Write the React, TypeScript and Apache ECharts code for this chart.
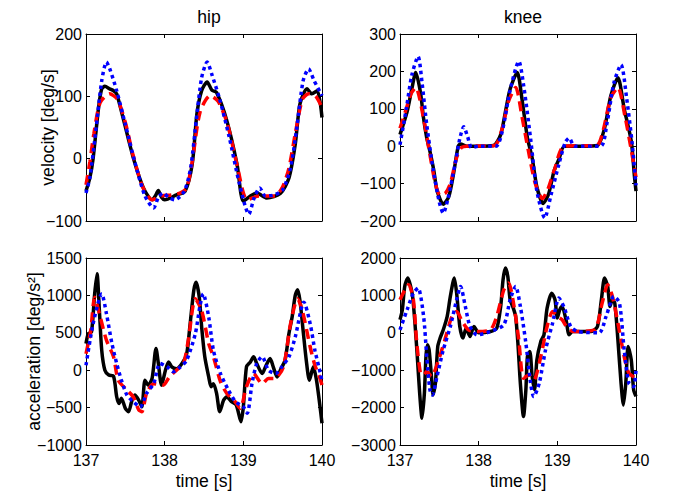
import React, { useEffect, useRef } from "react";
import * as echarts from "echarts";

type P = [number, number][];

const titles = ["hip", "knee"];
const yNames = ["velocity [deg/s]", "acceleration [deg/s²]"];
const xName = "time [s]";
const xTicks = [137, 138, 139, 140];
// [min, max, interval] for TL, TR, BL, BR
const yRanges = [
  [-100, 200, 100],
  [-200, 300, 100],
  [-1000, 1500, 500],
  [-3000, 2000, 1000],
];

const hipVelBlack: P = [[137.00,-52],[137.05,-30],[137.09,0],[137.16,82],[137.20,112],[137.24,116],[137.30,112],[137.35,109],[137.39,104],[137.48,61],[137.60,2],[137.73,-47],[137.84,-66],[137.88,-60],[137.92,-51],[137.96,-62],[138.00,-66],[138.15,-58],[138.26,-52],[138.35,-9],[138.41,72],[138.47,109],[138.54,123],[138.60,110],[138.66,106],[138.79,61],[138.92,-9],[139.00,-68],[139.09,-60],[139.17,-55],[139.30,-63],[139.47,-56],[139.58,-31],[139.66,23],[139.72,88],[139.81,112],[139.87,104],[139.94,109],[140.00,66]];
const hipVelRed: P = [[137.00,-42],[137.05,-5],[137.10,40],[137.18,90],[137.30,104],[137.40,95],[137.50,58],[137.60,5],[137.72,-45],[137.84,-66],[137.95,-60],[138.10,-58],[138.20,-55],[138.28,-47],[138.35,-5],[138.45,75],[138.58,101],[138.68,92],[138.80,55],[138.92,-10],[139.05,-66],[139.20,-60],[139.40,-60],[139.50,-45],[139.58,-15],[139.66,40],[139.75,95],[139.83,104],[139.92,100],[140.00,82]];
const hipVelBlue: P = [[137.00,-55],[137.05,-30],[137.12,40],[137.20,125],[137.26,155],[137.30,145],[137.39,109],[137.50,55],[137.62,-5],[137.75,-60],[137.86,-79],[137.92,-62],[137.98,-55],[138.05,-62],[138.13,-66],[138.25,-52],[138.33,-15],[138.40,60],[138.47,130],[138.54,155],[138.60,135],[138.70,95],[138.82,35],[138.95,-40],[139.07,-89],[139.14,-62],[139.21,-47],[139.28,-60],[139.40,-58],[139.50,-50],[139.60,-15],[139.68,50],[139.76,125],[139.83,144],[139.90,125],[140.00,101]];

const kneeVelBlack: P = [[137.00,31],[137.09,92],[137.15,153],[137.20,197],[137.26,144],[137.30,74],[137.34,22],[137.38,-13],[137.43,-65],[137.47,-118],[137.55,-155],[137.62,-135],[137.68,-74],[137.74,0],[137.77,6],[137.85,0],[138.00,0],[138.19,2],[138.28,31],[138.34,92],[138.40,153],[138.49,197],[138.55,127],[138.62,22],[138.68,-31],[138.74,-109],[138.82,-153],[138.89,-127],[138.96,-65],[139.02,-35],[139.09,0],[139.30,0],[139.51,2],[139.60,48],[139.68,135],[139.77,183],[139.85,100],[139.94,13],[139.98,-80],[140.00,-120]];
const kneeVelRed: P = [[137.00,48],[137.08,100],[137.14,140],[137.20,157],[137.30,74],[137.38,-22],[137.45,-100],[137.51,-131],[137.58,-125],[137.64,-100],[137.72,-30],[137.78,-4],[137.85,0],[138.20,2],[138.30,48],[138.38,120],[138.47,157],[138.55,80],[138.63,-10],[138.72,-100],[138.81,-140],[138.88,-115],[138.96,-65],[139.09,0],[139.50,2],[139.58,40],[139.68,130],[139.77,157],[139.86,80],[139.94,-10],[140.00,-83]];
const kneeVelBlue: P = [[137.00,4],[137.08,100],[137.15,190],[137.23,240],[137.28,170],[137.34,57],[137.42,-60],[137.50,-150],[137.55,-179],[137.61,-140],[137.70,-48],[137.76,20],[137.81,52],[137.86,25],[137.91,-4],[138.00,0],[138.22,0],[138.30,40],[138.40,150],[138.51,227],[138.58,150],[138.66,20],[138.74,-120],[138.84,-192],[138.92,-130],[139.02,-48],[139.10,10],[139.15,22],[139.22,0],[139.55,0],[139.63,60],[139.72,170],[139.81,218],[139.88,130],[139.95,10],[140.00,-105]];

const hipAccBlack: P = [[137.00,355],[137.03,490],[137.07,510],[137.11,1020],[137.14,1290],[137.17,800],[137.20,265],[137.24,0],[137.29,-65],[137.35,-80],[137.39,-355],[137.42,-445],[137.45,-375],[137.50,-510],[137.54,-555],[137.58,-420],[137.62,-333],[137.67,-400],[137.71,-490],[137.75,-133],[137.79,-200],[137.84,-110],[137.89,290],[137.92,90],[137.96,-200],[138.01,0],[138.05,110],[138.09,45],[138.15,20],[138.22,90],[138.28,220],[138.32,580],[138.37,1065],[138.40,1175],[138.44,975],[138.47,580],[138.51,180],[138.56,-90],[138.59,-220],[138.62,-180],[138.66,-310],[138.70,-555],[138.75,-400],[138.79,-355],[138.85,-420],[138.91,-465],[138.97,-690],[139.00,-490],[139.04,45],[139.09,110],[139.13,180],[139.17,90],[139.24,-45],[139.29,65],[139.34,155],[139.38,45],[139.43,-90],[139.47,0],[139.53,133],[139.58,490],[139.62,710],[139.66,1000],[139.69,1075],[139.72,930],[139.76,530],[139.80,133],[139.84,-133],[139.89,45],[139.93,-133],[139.97,-445],[140.00,-710]];
const hipAccRed: P = [[137.00,220],[137.06,530],[137.11,975],[137.17,755],[137.26,400],[137.35,180],[137.41,-133],[137.52,-265],[137.60,-355],[137.67,-530],[137.71,-555],[137.77,-310],[137.86,-180],[137.98,-200],[138.06,-90],[138.15,0],[138.24,90],[138.30,400],[138.39,955],[138.47,800],[138.56,355],[138.62,180],[138.71,-155],[138.79,-310],[138.88,-400],[138.96,-510],[139.04,-220],[139.13,-45],[139.24,-180],[139.32,-110],[139.40,-110],[139.51,45],[139.60,620],[139.69,955],[139.75,800],[139.85,310],[139.91,65],[139.96,-65],[140.00,-200]];
const hipAccBlue: P = [[137.00,65],[137.09,620],[137.20,1020],[137.26,755],[137.33,355],[137.39,90],[137.45,-133],[137.52,-333],[137.60,-420],[137.69,-490],[137.77,-310],[137.86,-180],[137.94,90],[138.03,45],[138.11,-20],[138.20,45],[138.28,133],[138.39,490],[138.45,865],[138.49,1020],[138.56,710],[138.62,265],[138.71,-45],[138.81,-265],[138.90,-420],[139.00,-490],[139.05,-575],[139.11,-180],[139.17,90],[139.24,180],[139.32,0],[139.41,-45],[139.49,45],[139.58,180],[139.66,445],[139.77,910],[139.85,620],[139.91,265],[139.98,-45],[140.00,-150]];

const kneeAccBlack: P = [[137.00,350],[137.03,615],[137.06,1240],[137.10,1465],[137.13,1285],[137.16,975],[137.19,260],[137.22,-635],[137.25,-1615],[137.28,-2285],[137.31,-1615],[137.33,-635],[137.35,-320],[137.37,-455],[137.40,-1170],[137.42,-1660],[137.45,-1350],[137.48,-365],[137.51,-140],[137.55,80],[137.60,440],[137.64,975],[137.69,1465],[137.72,1060],[137.76,170],[137.80,-140],[137.84,125],[137.89,-100],[137.94,170],[138.00,0],[138.15,35],[138.23,125],[138.28,705],[138.31,1420],[138.34,1730],[138.37,1510],[138.40,885],[138.44,660],[138.47,440],[138.50,-320],[138.53,-1350],[138.57,-2240],[138.60,-1525],[138.62,-635],[138.65,-500],[138.68,-1170],[138.71,-1525],[138.74,-725],[138.79,-230],[138.83,-55],[138.87,660],[138.93,1060],[138.97,885],[139.00,395],[139.03,615],[139.06,705],[139.11,350],[139.15,-55],[139.19,35],[139.26,35],[139.43,35],[139.51,170],[139.56,885],[139.60,1465],[139.64,1240],[139.67,705],[139.70,885],[139.73,795],[139.77,-190],[139.81,-1350],[139.84,-1930],[139.87,-1350],[139.90,-365],[139.94,-725],[139.97,-1525],[140.00,-1700]];
const kneeAccRed: P = [[137.00,885],[137.11,1285],[137.17,885],[137.21,-190],[137.26,-1080],[137.30,-1125],[137.34,-1035],[137.40,-1170],[137.49,-725],[137.57,-190],[137.66,440],[137.72,570],[137.79,305],[137.87,80],[137.98,35],[138.15,80],[138.23,440],[138.32,1150],[138.38,1330],[138.45,705],[138.51,-190],[138.57,-1215],[138.64,-1125],[138.70,-1260],[138.79,-635],[138.87,170],[138.94,570],[139.00,440],[139.06,350],[139.13,125],[139.21,35],[139.47,80],[139.57,795],[139.64,1285],[139.70,975],[139.77,260],[139.85,-635],[139.91,-1080],[140.00,-1215]];
const kneeAccBlue: P = [[137.00,80],[137.09,615],[137.17,1060],[137.23,1195],[137.30,440],[137.34,-635],[137.38,-1525],[137.41,-1660],[137.47,-1170],[137.55,-455],[137.64,170],[137.72,885],[137.77,1240],[137.83,705],[137.89,170],[137.98,-55],[138.15,35],[138.32,215],[138.40,885],[138.47,1240],[138.53,705],[138.60,-275],[138.66,-1350],[138.70,-1705],[138.77,-1350],[138.85,-455],[138.94,260],[139.02,930],[139.09,660],[139.17,170],[139.26,35],[139.53,0],[139.62,440],[139.72,975],[139.79,795],[139.85,-455],[139.91,-1350],[139.97,-1440],[140.00,-990]];

const panels: P[][] = [
  [hipVelBlack, hipVelRed, hipVelBlue],
  [kneeVelBlack, kneeVelRed, kneeVelBlue],
  [hipAccBlack, hipAccRed, hipAccBlue],
  [kneeAccBlack, kneeAccRed, kneeAccBlue],
];

const FONT = "Liberation Sans";
const FS = 16;
const LFS = 17.6;
const minus = (v: number) => String(v).replace("-", "\u2212");

export default function App() {
  const ref = useRef<HTMLDivElement>(null);
  useEffect(() => {
    if (!ref.current) return;
    const chart = echarts.init(ref.current, null, { renderer: "svg" });
    const lefts = [86, 400, 86, 400];
    const tops = [34, 34, 258, 258];
    const nameGaps = [29, 0, 43, 0];
    const grid = lefts.map((l, i) => ({ left: l, top: tops[i], width: 236, height: 187 }));
    const xAxis: any[] = [];
    const yAxis: any[] = [];
    const series: any[] = [];
    const axisLine = { show: true, onZero: false, lineStyle: { color: "#000", width: 1 } };
    const tick = { show: true, inside: true, length: 4, lineStyle: { color: "#000" } };
    for (let i = 0; i < 4; i++) {
      const bottomRow = i >= 2;
      xAxis.push({
        type: "value", gridIndex: i, position: "bottom", min: xTicks[0], max: xTicks[xTicks.length - 1], interval: 1,
        axisLine, axisTick: tick, splitLine: { show: false },
        axisLabel: { show: bottomRow, color: "#000", fontSize: FS, fontFamily: FONT, margin: 7 },
        name: bottomRow ? xName : "", nameLocation: "middle", nameGap: 27,
        nameTextStyle: { color: "#000", fontSize: LFS, fontFamily: FONT },
      });
      xAxis.push({
        type: "value", gridIndex: i, position: "top", min: xTicks[0], max: xTicks[xTicks.length - 1], interval: 1,
        axisLine, axisTick: tick, splitLine: { show: false }, axisLabel: { show: false },
      });
      const [mn, mx, iv] = yRanges[i];
      const leftCol = i % 2 === 0;
      yAxis.push({
        type: "value", gridIndex: i, position: "left", min: mn, max: mx, interval: iv,
        axisLine, axisTick: tick, splitLine: { show: false },
        axisLabel: { color: "#000", fontSize: FS, fontFamily: FONT, margin: 4, formatter: minus },
        name: leftCol ? yNames[i < 2 ? 0 : 1] : "", nameLocation: "middle", nameGap: nameGaps[i],
        nameMoveOverlap: false,
        nameTextStyle: { color: "#000", fontSize: LFS, fontFamily: FONT },
      });
      yAxis.push({
        type: "value", gridIndex: i, position: "right", min: mn, max: mx, interval: iv,
        axisLine, axisTick: tick, splitLine: { show: false }, axisLabel: { show: false },
      });
      const styles = [
        { color: "#000000", width: 3.5, type: "solid" },
        { color: "#ff0000", width: 3.5, type: [10, 6] },
        { color: "#0000ff", width: 3.5, type: [3.5, 3.5] },
      ];
      panels[i].forEach((d, k) => {
        series.push({
          type: "line", xAxisIndex: 2 * i, yAxisIndex: 2 * i, data: d, symbol: "none",
          smooth: 0.25, lineStyle: styles[k], z: 2 + k, silent: true,
        });
      });
    }
    chart.setOption({
      animation: false,
      backgroundColor: "#fff",
      title: titles.map((t, i) => ({
        text: t, left: i === 0 ? 204 : 518, top: 3, textAlign: "center",
        textStyle: { color: "#000", fontSize: LFS, fontWeight: "normal", fontFamily: FONT },
      })),
      grid, xAxis, yAxis, series,
    });
    return () => chart.dispose();
  }, []);
  return <div ref={ref} style={{ position: "fixed", left: 0, top: 0, width: 677, height: 495 }} />;
}
